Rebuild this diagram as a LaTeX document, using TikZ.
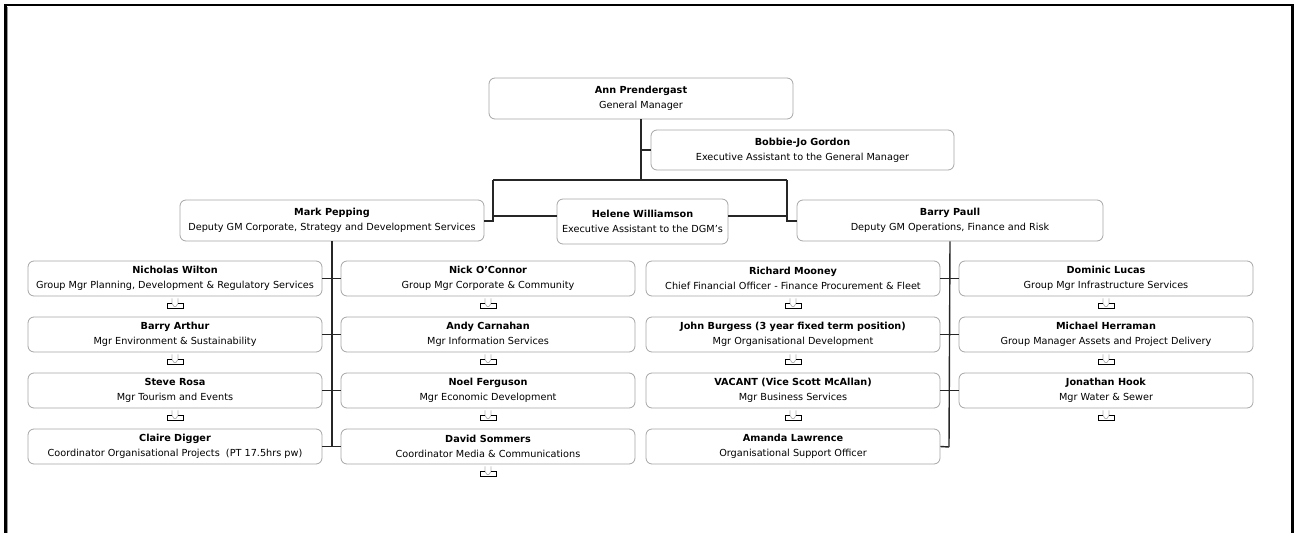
\documentclass[tikz,border=0pt]{standalone}
\usepackage{fontspec}
\setmainfont{DejaVu Sans}
\begin{document}
\begin{tikzpicture}[x=1pt,y=-1pt,
  box/.style={draw=black!35,line width=0.8pt,rounded corners=6pt,fill=white,align=center,
    inner sep=0pt,font=\fontsize{9.7}{14.8}\selectfont},
  rowbox/.style={box,minimum width=294pt,minimum height=35pt},
  conn/.style={draw=black!85,line width=1.4pt},
  tray/.pic={
    \draw[black!30,line width=0.7pt] (-3,-5)--(-3,0)--(-1,3)--(1,3)--(3,0)--(3,-5);
    \draw[black,line width=1pt] (-3,0)--(-8,0)--(-8,5)--(8,5)--(8,0)--(3,0);
  }]
\useasboundingbox (0,0) rectangle (1294,533);
% frame
\draw[black!40,line width=0.8pt] (7.2,540)--(7.2,7);
\draw[black,line width=2.6pt] (5.3,540)--(5.3,5)--(1292.5,5)--(1292.5,540);

% top nodes
\node[box,minimum width=304pt,minimum height=41pt] (ann) at (641,98.5) {\textbf{Ann Prendergast}\\General Manager};
\node[box,minimum width=303pt,minimum height=40pt] (bobbie) at (802.5,150) {\textbf{Bobbie-Jo Gordon}\\Executive Assistant to the General Manager};
\node[box,minimum width=304pt,minimum height=41pt] (mark) at (332,220.5) {\textbf{Mark Pepping}\\Deputy GM Corporate, Strategy and Development Services};
\node[box,minimum width=171pt,minimum height=45pt] (helene) at (642.5,221.5) {\textbf{Helene Williamson}\\Executive Assistant to the DGM's};
\node[box,minimum width=306pt,minimum height=41pt] (barry) at (950,220.5) {\textbf{Barry Paull}\\Deputy GM Operations, Finance and Risk};

\coordinate (split) at (641,180);
\coordinate (lsplit) at (493,180);
\coordinate (rsplit) at (787,180);
\coordinate (bjbranch) at (641,150);
\coordinate (lcorner) at (493,221);
\coordinate (rcorner) at (787,221);
\coordinate (hl) at (493,216);
\coordinate (hr) at (787,216);

\draw[conn] (ann.south) -- (split);
\draw[conn] (bjbranch) -- (bobbie.west |- bjbranch);
\draw[conn] (lsplit) -- (rsplit);
\draw[conn] (lsplit) -- (lcorner) -- (mark.east |- lcorner);
\draw[conn] (rsplit) -- (rcorner) -- (barry.west |- rcorner);
\draw[conn] (hl) -- (helene.west |- hl);
\draw[conn] (helene.east |- hr) -- (hr);

% column 1
\node[rowbox] (nw) at (175,278.5) {\textbf{Nicholas Wilton}\\Group Mgr Planning, Development \& Regulatory Services};
\node[rowbox] (ba) at (175,334.5) {\textbf{Barry Arthur}\\Mgr Environment \& Sustainability};
\node[rowbox] (sr) at (175,390.5) {\textbf{Steve Rosa}\\Mgr Tourism and Events};
\node[rowbox] (cd) at (175,446.5) {\textbf{Claire Digger}\\Coordinator Organisational Projects\ \ (PT 17.5hrs pw)};
% column 2
\node[rowbox] (no) at (488,278.5) {\textbf{Nick O'Connor}\\Group Mgr Corporate \& Community};
\node[rowbox] (ac) at (488,334.5) {\textbf{Andy Carnahan}\\Mgr Information Services};
\node[rowbox] (nf) at (488,390.5) {\textbf{Noel Ferguson}\\Mgr Economic Development};
\node[rowbox] (ds) at (488,446.5) {\textbf{David Sommers}\\Coordinator Media \& Communications};
% column 3
\node[rowbox] (rm) at (793,278.5) {\textbf{Richard Mooney}\\Chief Financial Officer - Finance Procurement \& Fleet};
\node[rowbox] (jb) at (793,334.5) {\textbf{John Burgess (3 year fixed term position)}\\Mgr Organisational Development};
\node[rowbox] (va) at (793,390.5) {\textbf{VACANT (Vice Scott McAllan)}\\Mgr Business Services};
\node[rowbox] (al) at (793,446.5) {\textbf{Amanda Lawrence}\\Organisational Support Officer};
% column 4
\node[rowbox] (dl) at (1106,278.5) {\textbf{Dominic Lucas}\\Group Mgr Infrastructure Services};
\node[rowbox] (mh) at (1106,334.5) {\textbf{Michael Herraman}\\Group Manager Assets and Project Delivery};
\node[rowbox] (jh) at (1106,390.5) {\textbf{Jonathan Hook}\\Mgr Water \& Sewer};

% trunks
\coordinate (ltrunk) at (332,447);
\coordinate (rtrunk) at (949,447);
\draw[conn] (mark.south) -- (ltrunk);
\draw[conn] (barry.south) -- (rtrunk);
\draw[conn] (nw.east) -- (no.west);
\draw[conn] (ba.east) -- (ac.west);
\draw[conn] (sr.east) -- (nf.west);
\draw[conn] (cd.east) -- (ds.west);
\draw[conn] (rm.east) -- (dl.west);
\draw[conn] (jb.east) -- (mh.west);
\draw[conn] (va.east) -- (jh.west);
\draw[conn] (al.east) -- (rtrunk);

% tray icons
\foreach \n in {nw,ba,sr,no,ac,nf,ds,rm,jb,va,dl,mh,jh}{
  \path ([yshift=-7pt]\n.south) pic {tray};
}
\end{tikzpicture}
\end{document}
